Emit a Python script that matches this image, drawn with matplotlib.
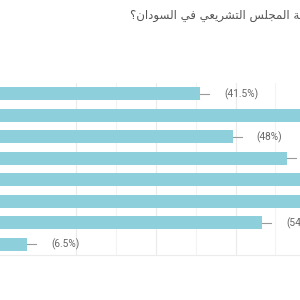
import matplotlib
matplotlib.use("Agg")
import matplotlib.pyplot as plt

# ---- data ----
title_text = "ما رأيك في تركيبة المجلس التشريعي في السودان؟"
values = [41.5, 66, 48, 59, 70, 68, 54, 6.5]
labels = ["(41.5%)", "(66%)", "(48%)", "(59%)", "(70%)", "(68%)", "(54%)", "(6.5%)"]

# ---- minimal Arabic shaping (presentation forms) ----
FORMS = {
    'ا': (0xFE8D, 0xFE8E, None, None), 'أ': (0xFE83, 0xFE84, None, None),
    'ب': (0xFE8F, 0xFE90, 0xFE91, 0xFE92), 'ة': (0xFE93, 0xFE94, None, None),
    'ت': (0xFE95, 0xFE96, 0xFE97, 0xFE98), 'ج': (0xFE9D, 0xFE9E, 0xFE9F, 0xFEA0),
    'د': (0xFEA9, 0xFEAA, None, None), 'ر': (0xFEAD, 0xFEAE, None, None),
    'س': (0xFEB1, 0xFEB2, 0xFEB3, 0xFEB4), 'ش': (0xFEB5, 0xFEB6, 0xFEB7, 0xFEB8),
    'ع': (0xFEC9, 0xFECA, 0xFECB, 0xFECC), 'ف': (0xFED1, 0xFED2, 0xFED3, 0xFED4),
    'ك': (0xFED9, 0xFEDA, 0xFEDB, 0xFEDC), 'ل': (0xFEDD, 0xFEDE, 0xFEDF, 0xFEE0),
    'م': (0xFEE1, 0xFEE2, 0xFEE3, 0xFEE4), 'ن': (0xFEE5, 0xFEE6, 0xFEE7, 0xFEE8),
    'ه': (0xFEE9, 0xFEEA, 0xFEEB, 0xFEEC), 'و': (0xFEED, 0xFEEE, None, None),
    'ي': (0xFEF1, 0xFEF2, 0xFEF3, 0xFEF4), 'ى': (0xFEEF, 0xFEF0, None, None),
}


def shape(text):
    out = []
    n = len(text)
    for i, ch in enumerate(text):
        if ch not in FORMS:
            out.append(ch)
            continue
        iso, fin, ini, med = FORMS[ch]
        prev = text[i - 1] if i > 0 else None
        nxt = text[i + 1] if i + 1 < n else None
        join_prev = prev in FORMS and FORMS[prev][2] is not None
        join_next = nxt in FORMS and ini is not None
        if join_prev and join_next:
            out.append(chr(med))
        elif join_prev:
            out.append(chr(fin))
        elif join_next:
            out.append(chr(ini))
        else:
            out.append(chr(iso))
    return "".join(reversed(out))


# ---- layout ----
DPI = 100
W_PX = 400.0           # axes width in px (extends past the right edge)
PX_PER_UNIT = 4.95
LEFT_PX = -5.0
TOP_PX, BOTTOM_PX = 83.0, 255.0

fig = plt.figure(figsize=(3, 3), dpi=DPI)
ax = fig.add_axes([LEFT_PX / 300, 1 - BOTTOM_PX / 300, W_PX / 300, (BOTTOM_PX - TOP_PX) / 300])
xmax = W_PX / PX_PER_UNIT
ax.set_xlim(0, xmax)
ax.set_ylim(len(values) - 0.5, -0.5)

unit = 1.0 / PX_PER_UNIT
major = [16.4 + 16.1 * k for k in range(5)]
minor = [24.45 + 16.1 * k for k in range(4)]
for g in major:
    ax.axvline(g, color="#ebebeb", lw=0.8, zorder=0)
for g in minor:
    ax.axvline(g, color="#f3f3f3", lw=0.8, zorder=0)

ys = list(range(len(values)))
ax.barh(ys, values, height=0.6, color="#8dd0dc", edgecolor="none", zorder=2)

for y, v, lab in zip(ys, values, labels):
    ax.plot([v, v + 9 * unit], [y, y], color="#9a9a9a", lw=0.8, zorder=3)
    ax.text(v + 24 * unit, y, lab, va="center", ha="left", fontsize=7.3,
            family="Roboto", color="#666666", zorder=3)

for s in ["top", "left", "right"]:
    ax.spines[s].set_visible(False)
ax.spines["bottom"].set_color("#ececec")
ax.spines["bottom"].set_linewidth(0.8)
ax.set_xticks([])
ax.set_yticks([])

fig.text(130 / 300, 1 - 15 / 300, shape(title_text), ha="left", va="center",
         fontsize=8.5, family="DejaVu Sans", color="#555555")

fig.savefig("out.png", dpi=DPI)
